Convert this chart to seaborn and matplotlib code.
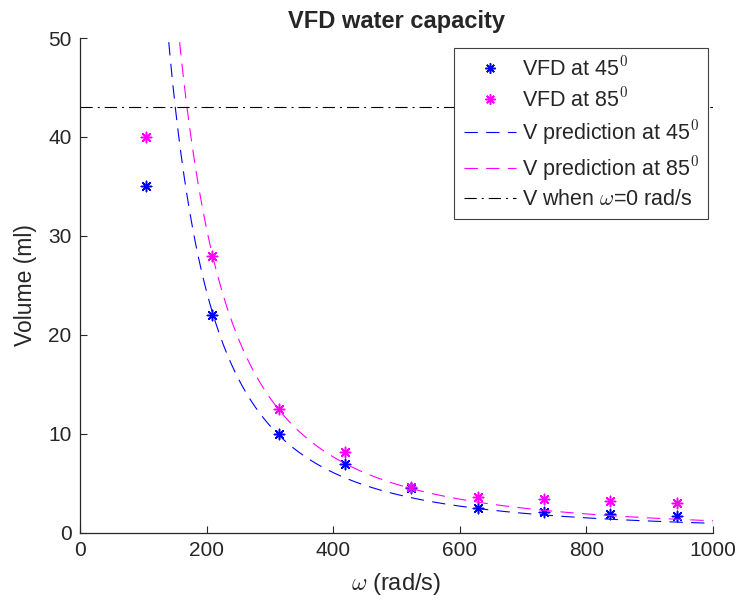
import numpy as np
import pandas as pd
import matplotlib
matplotlib.use("Agg")
import matplotlib.pyplot as plt
import seaborn as sns
from matplotlib.lines import Line2D

# Measured VFD volumes at each rotational speed
omega = [104.7, 209.4, 314.2, 418.9, 523.6, 628.3, 733.0, 837.8, 942.5]
vol_45 = [35.0, 22.0, 10.0, 7.0, 4.5, 2.5, 2.1, 1.9, 1.7]
vol_85 = [40.0, 28.0, 12.5, 8.2, 4.6, 3.6, 3.4, 3.2, 3.0]

# Prediction model V = k / omega^2 (fitted constants, ml*(rad/s)^2)
k_45 = 9.76e5
k_85 = 1.23e6
# Volume at rest
v_static = 43.0

sns.set_theme(style="white")
plt.rcParams["font.family"] = ["Liberation Sans", "DejaVu Sans"]
plt.rcParams["mathtext.fontset"] = "cm"

fig = plt.figure(figsize=(7.4, 6.08), dpi=100)
ax = fig.add_axes([0.108, 0.1234, 0.8555, 0.8141])

pts = pd.DataFrame({
    "omega": omega * 2,
    "V": vol_45 + vol_85,
    "series": ["45"] * len(omega) + ["85"] * len(omega),
})
w = np.linspace(100, 1000, 600)
pred = pd.DataFrame({
    "omega": np.concatenate([w, w]),
    "V": np.concatenate([k_45 / w**2, k_85 / w**2]),
    "series": ["45"] * len(w) + ["85"] * len(w),
})

pal = {"45": (0, 0, 1), "85": (1, 0, 1)}
star = (8, 2, 0)
lw = 0.8
dash = (0, (12, 7.5))
dashdot = (0, (11, 4.5, 1.8, 4.5))

for s in ["45", "85"]:
    sns.lineplot(data=pred[pred.series == s], x="omega", y="V", color=pal[s],
                 ax=ax, lw=lw, legend=False, linestyle=dash)
ax.axhline(v_static, color="black", lw=lw, linestyle=dashdot)

for s in ["45", "85"]:
    d = pts[pts.series == s]
    sns.scatterplot(data=d, x="omega", y="V", ax=ax, marker=star, s=55,
                    color=pal[s], edgecolor=pal[s], linewidth=1.1, legend=False)

ax.set_xlim(0, 1000)
ax.set_ylim(0, 50)
ax.set_xticks([0, 200, 400, 600, 800, 1000])
ax.set_yticks([0, 10, 20, 30, 40, 50])

for side in ["top", "right"]:
    ax.spines[side].set_visible(False)
for side in ["left", "bottom"]:
    ax.spines[side].set_color("#262626")
    ax.spines[side].set_linewidth(0.9)
ax.tick_params(direction="in", length=5, width=0.8, colors="#262626",
               labelsize=15, pad=6, left=True, bottom=True)

ax.set_xlabel(r"$\omega$ (rad/s)", fontsize=17, color="#262626", labelpad=8)
ax.set_ylabel("Volume (ml)", fontsize=16.5, color="#262626", labelpad=8)
ax.set_title("VFD water capacity", fontsize=17, fontweight="bold", pad=7)

handles = [
    Line2D([], [], ls="none", marker=star, color=pal["45"], ms=7.4, mew=1.1),
    Line2D([], [], ls="none", marker=star, color=pal["85"], ms=7.4, mew=1.1),
    Line2D([], [], color=pal["45"], lw=lw, linestyle=dash),
    Line2D([], [], color=pal["85"], lw=lw, linestyle=dash),
    Line2D([], [], color="black", lw=lw, linestyle=dashdot),
]
labels = [r"VFD at 45$^{\mathsf{0}}$", r"VFD at 85$^{\mathsf{0}}$",
          r"V prediction at 45$^{\mathsf{0}}$", r"V prediction at 85$^{\mathsf{0}}$",
          r"V when $\omega$=0 rad/s"]
leg = ax.legend(handles, labels, loc="upper right", bbox_to_anchor=(0.992, 0.98),
                fontsize=15.5, frameon=True, fancybox=False, framealpha=1,
                edgecolor="#404040", handlelength=2.45, handletextpad=0.25,
                borderpad=0.42, labelspacing=0.32, borderaxespad=0)
leg.get_frame().set_linewidth(0.8)

fig.savefig("out.png", dpi=100)
